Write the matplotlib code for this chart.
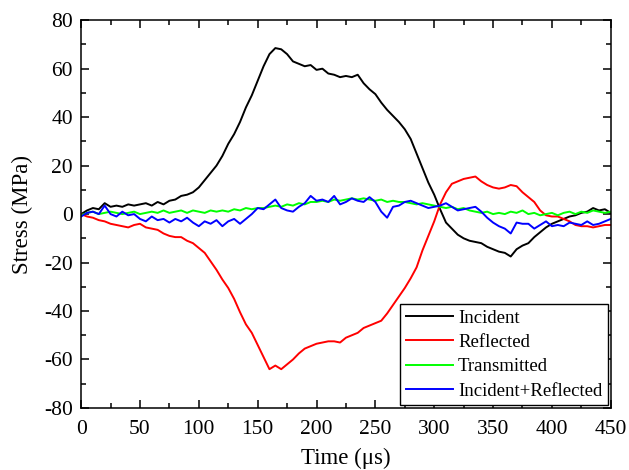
import matplotlib
matplotlib.use("Agg")
import matplotlib.pyplot as plt
from matplotlib.ticker import MultipleLocator

plt.rcParams['font.family'] = ['Liberation Serif', 'DejaVu Serif']
plt.rcParams['axes.unicode_minus'] = False

time_us = list(range(0, 451, 5))

incident = [0, 1.5, 2.5, 2, 4.5, 3, 3.5, 3, 4, 3.5,
            4, 4.5, 3.5, 5, 4, 5.5, 6, 7.5, 8, 9,
            11, 14, 17, 20, 24, 29, 33, 38, 44, 49,
            55, 61, 66, 68.5, 68, 66, 63, 62, 61, 61.5,
            59.5, 60, 58, 57.5, 56.5, 57, 56.5, 57.5, 54, 51.5,
            49.5, 46, 43, 40.5, 38, 35, 31, 25, 19, 13,
            8, 2, -3.5, -6, -8.5, -10, -11, -11.5, -12, -13.5,
            -14.5, -15.5, -16, -17.5, -14.5, -13, -12, -9.5, -7.5, -5.5,
            -4, -3, -2, -1, -0.5, 0.5, 1, 2.5, 1.5, 2, 0.5]

reflected = [0, -1, -1.5, -2.5, -3, -4, -4.5, -5, -5.5, -4.5,
             -4, -5.5, -6, -6.5, -8, -9, -9.5, -9.5, -11, -12,
             -14, -16, -19.5, -23, -27, -30.5, -35, -40.5, -45.5, -49,
             -54, -59, -64, -62.5, -64, -62, -60, -57.5, -55.5, -54.5,
             -53.5, -53, -52.5, -52.5, -53, -51, -50, -49, -47, -46,
             -45, -44, -41, -37.5, -34, -30.5, -26.5, -22, -15, -9,
             -3, 4, 9, 12.5, 13.5, 14.5, 15, 15.5, 13.5, 12,
             11, 10.5, 11, 12, 11.5, 9, 7, 5, 1.5, -0.5,
             -1, -1, -2, -3, -4.5, -5, -5, -5.5, -5, -4.5, -4.5]

transmitted = [-0.5, 0.5, 1, 0, 0.5, 1, 0.5, 0, 0.5, 1,
               0, 0.5, 1, 0.5, 1.5, 0.5, 1, 1.5, 0.5, 1.5,
               1, 0.5, 1.5, 1, 1.5, 1, 2, 1.5, 2.5, 2,
               2.5, 2.5, 3, 3.5, 3, 4, 3.5, 4.5, 4, 5,
               5, 5.5, 5, 6, 5.5, 6, 6.5, 6, 6.5, 6,
               5.5, 6, 5, 5.5, 5, 5, 4.5, 4, 4.5, 4,
               3.5, 3, 2.5, 3, 2, 2.5, 1.5, 1, 0.5, 1,
               0, 0.5, 0, 1, 0.5, 1.5, 0, 0.5, -0.5, 0,
               0.5, -0.5, 0.5, 1, 0, 1, 0.5, 1.5, 1, 0.5, 1]

inc_plus_ref = [-1, 0.5, 1, 0, 3.5, 0, -1, 1, -0.5, 0,
                -2, -3, -1, -2.5, -2, -3.5, -2, -3, -1.5, -3.5,
                -5, -3, -4, -2.5, -5, -3, -2, -4, -2, 0,
                2.5, 2, 4, 6, 2.5, 1.5, 1, 3, 4.5, 7.5,
                5.5, 6, 5, 7.5, 4, 5, 6.5, 5.5, 5, 7,
                5, 1, -1.5, 3, 3.5, 5, 5.5, 4.5, 3.5, 2.5,
                3, 3.5, 4.5, 3, 1.5, 2, 2.5, 3, 1, -1.5,
                -3.5, -5, -6, -8, -3.5, -4, -4, -6, -4.5, -3,
                -5, -4.5, -5, -3.5, -4, -4.5, -3, -4.5, -4, -3, -2]

series_labels = ["Incident", "Reflected", "Transmitted", "Incident+Reflected"]
series_colors = ["#000000", "#ff0000", "#00ff00", "#0000ff"]

fig = plt.figure(figsize=(6.29, 4.70), dpi=100)
ax = fig.add_axes([0.129, 0.132, 0.842, 0.825])

for vals, lab, col in zip([incident, reflected, transmitted, inc_plus_ref],
                          series_labels, series_colors):
    ax.plot(time_us, vals, color=col, lw=1.4, label=lab)

ax.set_xlim(0, 450)
ax.set_ylim(-80, 80)
ax.xaxis.set_major_locator(MultipleLocator(50))
ax.xaxis.set_minor_locator(MultipleLocator(25))
ax.yaxis.set_major_locator(MultipleLocator(20))
ax.yaxis.set_minor_locator(MultipleLocator(10))
ax.tick_params(which='both', direction='in', top=True, right=True,
               labelsize=15.5, width=1.1)
ax.tick_params(which='major', length=6)
ax.tick_params(which='minor', length=3.5)
ax.tick_params(axis='x', which='major', pad=9)
ax.tick_params(axis='y', which='major', pad=6)
for s in ax.spines.values():
    s.set_linewidth(1.1)

ax.set_xlabel("Time (μs)", fontsize=16.5, labelpad=6)
ax.set_ylabel("Stress (MPa)", fontsize=16.5, labelpad=8)

leg = ax.legend(loc='lower right', fontsize=13.5, frameon=True, fancybox=False,
                edgecolor='black', framealpha=1, borderpad=0.3,
                labelspacing=0.38, handlelength=2.5, handletextpad=0.28,
                borderaxespad=0.15)
leg.get_frame().set_linewidth(1.0)

fig.savefig("out.png", dpi=100)
